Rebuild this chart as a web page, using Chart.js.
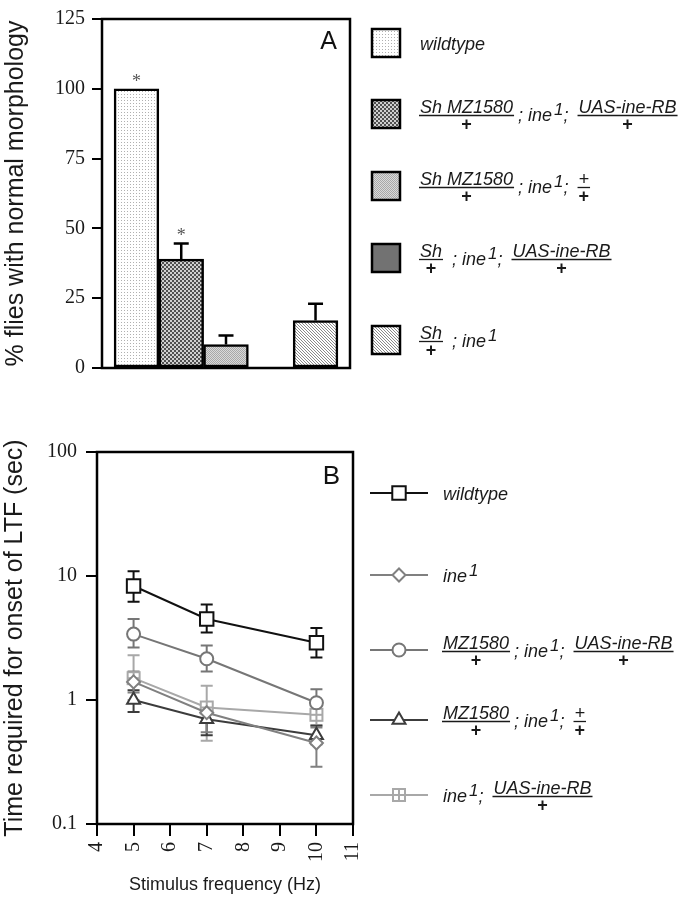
<!DOCTYPE html>
<html>
<head>
<meta charset="utf-8">
<script src="https://cdn.jsdelivr.net/npm/chart.js@4.4.1/dist/chart.umd.min.js"></script>
<style>
html, body { margin: 0; padding: 0; background: #fff; }
#wrap { position: relative; width: 684px; height: 899px; }
#chartA { position: absolute; left: 0; top: 0; }
#chartB { position: absolute; left: 0; top: 420px; }
</style>
</head>
<body>
<div id="wrap">
  <canvas id="chartA" width="684" height="405"></canvas>
  <canvas id="chartB" width="684" height="479"></canvas>
</div>
<script>
// ---- panel A data ----
const genotypesA = ['wildtype', 'Sh MZ1580/+; ine1; UAS-ine-RB/+', 'Sh MZ1580/+; ine1; +/+', 'Sh/+; ine1; UAS-ine-RB/+', 'Sh/+; ine1'];
const percentNormal = [100, 39, 8.4, 0, 17];
const percentErr = [0, 5.6, 3.2, 0, 6];
const starsA = ['*', '*', '', '', ''];
const ticksA = [0, 25, 50, 75, 100, 125];

// legend rows: t = text, s = superscript, f = fraction [num, den]
const legendA = [
    [['t', 'wildtype']],
    [['f', 'Sh MZ1580', '+'], ['t', '; ine'], ['s', '1'], ['t', ';  '], ['f', 'UAS-ine-RB', '+']],
    [['f', 'Sh MZ1580', '+'], ['t', '; ine'], ['s', '1'], ['t', ';  '], ['f', '+', '+']],
    [['f', 'Sh', '+'], ['t', ' ; ine'], ['s', '1'], ['t', ';  '], ['f', 'UAS-ine-RB', '+']],
    [['f', 'Sh', '+'], ['t', ' ; ine'], ['s', '1']]
];

// ---- panel B data ----
const freqHz = [5, 7, 10];
const ticksBx = [4, 5, 6, 7, 8, 9, 10, 11];
const ticksBy = [0.1, 1, 10, 100];

const wtTime = [8.3, 4.5, 2.9];
const wtHi = [10.9, 5.9, 3.8];
const wtLo = [6.2, 3.5, 2.2];

const ineTime = [1.4, 0.79, 0.45];
const ineHi = [1.7, 0.95, 0.6];
const ineLo = [1.15, 0.55, 0.29];

const rescueTime = [3.4, 2.15, 0.95];
const rescueHi = [4.5, 2.75, 1.22];
const rescueLo = [2.65, 1.7, 0.75];

const driverTime = [1.0, 0.7, 0.52];
const driverHi = [1.2, 0.85, 0.62];
const driverLo = [0.8, 0.52, 0.44];

const uasTime = [1.5, 0.87, 0.76];
const uasHi = [2.3, 1.3, 0.9];
const uasLo = [1.0, 0.47, 0.63];

const legendB = [
    [['t', 'wildtype']],
    [['t', 'ine'], ['s', '1']],
    [['f', 'MZ1580', '+'], ['t', '; ine'], ['s', '1'], ['t', ';  '], ['f', 'UAS-ine-RB', '+']],
    [['f', 'MZ1580', '+'], ['t', '; ine'], ['s', '1'], ['t', ';  '], ['f', '+', '+']],
    [['t', 'ine'], ['s', '1'], ['t', ';  '], ['f', 'UAS-ine-RB', '+']]
];

const SANS = '"Liberation Sans", Arial, Helvetica, sans-serif';
const SERIF = '"Liberation Serif", "Times New Roman", serif';

// ---- fill patterns for the bars ----
function makePattern(kind) {
    const c = document.createElement('canvas');
    const g = c.getContext('2d');
    if (kind === 'dots') {
        c.width = c.height = 3;
        g.fillStyle = '#fff'; g.fillRect(0, 0, 3, 3);
        g.fillStyle = '#b0b0b0'; g.fillRect(1, 1, 1, 1);
    } else if (kind === 'checker') {
        c.width = c.height = 4;
        g.fillStyle = '#d0d0d0'; g.fillRect(0, 0, 4, 4);
        g.fillStyle = '#505050'; g.fillRect(0, 0, 2, 2); g.fillRect(2, 2, 2, 2);
    } else if (kind === 'fine') {
        c.width = c.height = 2;
        g.fillStyle = '#dadada'; g.fillRect(0, 0, 2, 2);
        g.fillStyle = '#a8a8a8'; g.fillRect(0, 0, 1, 1); g.fillRect(1, 1, 1, 1);
    } else if (kind === 'hatch') {
        c.width = c.height = 3;
        g.fillStyle = '#fff'; g.fillRect(0, 0, 3, 3);
        g.fillStyle = '#8a8a8a';
        for (let i = 0; i < 3; i++) g.fillRect(i, i, 1, 1);
    } else {
        c.width = c.height = 2;
        g.fillStyle = '#727272'; g.fillRect(0, 0, 2, 2);
    }
    return g.createPattern(c, 'repeat');
}
const barFills = ['dots', 'checker', 'fine', 'solid', 'hatch'].map(makePattern);

function drawRich(ctx, tokens, x, y) {
    ctx.save();
    ctx.fillStyle = '#1a1a1a';
    ctx.strokeStyle = '#1a1a1a';
    ctx.textAlign = 'left';
    ctx.textBaseline = 'alphabetic';
    for (const tk of tokens) {
        if (tk[0] === 't') {
            ctx.font = 'italic 18px ' + SANS;
            ctx.fillText(tk[1], x, y + 7);
            x += ctx.measureText(tk[1]).width;
        } else if (tk[0] === 's') {
            ctx.font = 'italic 17px ' + SANS;
            ctx.fillText(tk[1], x + 2, y + 1);
            x += ctx.measureText(tk[1]).width + 2;
        } else {
            ctx.font = 'italic 18px ' + SANS;
            const w = ctx.measureText(tk[1]).width;
            ctx.fillText(tk[1], x, y - 1);
            ctx.lineWidth = 1.3;
            ctx.beginPath();
            ctx.moveTo(x - 1, y + 1.5);
            ctx.lineTo(x + w + 1, y + 1.5);
            ctx.stroke();
            ctx.font = 'bold 18px ' + SANS;
            const w2 = ctx.measureText(tk[2]).width;
            ctx.fillText(tk[2], x + (w - w2) / 2, y + 16);
            x += w + 5;
        }
    }
    ctx.restore();
}

const framePlugin = {
    id: 'frame',
    afterDraw(chart, args, opts) {
        const { ctx, chartArea: a } = chart;
        ctx.save();
        ctx.lineWidth = 2.5;
        ctx.strokeStyle = '#000';
        ctx.strokeRect(a.left, a.top, a.right - a.left, a.bottom - a.top);
        ctx.fillStyle = '#111';
        ctx.font = opts.size + 'px ' + SANS;
        ctx.textAlign = 'right';
        ctx.textBaseline = 'alphabetic';
        ctx.fillText(opts.letter, a.right - 13, a.top + opts.dy);
        ctx.restore();
    }
};

// ---- chart A ----
const barPlugin = {
    id: 'barExtras',
    afterDatasetsDraw(chart) {
        const { ctx } = chart;
        const y = chart.scales.y;
        const meta = chart.getDatasetMeta(0);
        ctx.save();
        ctx.strokeStyle = '#000';
        ctx.lineWidth = 2.5;
        meta.data.forEach((bar, i) => {
            let top = y.getPixelForValue(percentNormal[i]);
            if (percentErr[i] > 0) {
                const yt = y.getPixelForValue(percentNormal[i] + percentErr[i]);
                ctx.beginPath();
                ctx.moveTo(bar.x, top);
                ctx.lineTo(bar.x, yt);
                ctx.moveTo(bar.x - 7.5, yt);
                ctx.lineTo(bar.x + 7.5, yt);
                ctx.stroke();
                top = yt;
            }
            if (starsA[i]) {
                ctx.fillStyle = '#555';
                ctx.font = '18px ' + SERIF;
                ctx.textAlign = 'center';
                ctx.fillText(starsA[i], bar.x, top - 2);
            }
        });
        ctx.restore();
    }
};

const legendAPlugin = {
    id: 'legendA',
    afterDraw(chart) {
        const { ctx } = chart;
        const rows = [43, 114, 186, 258, 340];
        legendA.forEach((tokens, i) => {
            ctx.save();
            ctx.fillStyle = barFills[i];
            ctx.fillRect(372, rows[i] - 14, 28, 28);
            ctx.lineWidth = 2.5;
            ctx.strokeStyle = '#000';
            ctx.strokeRect(372, rows[i] - 14, 28, 28);
            ctx.restore();
            drawRich(ctx, tokens, 420, rows[i]);
        });
    }
};

new Chart(document.getElementById('chartA'), {
    type: 'bar',
    data: {
        datasets: [{
            label: '% flies with normal morphology',
            data: percentNormal.map((v, i) => ({ x: i, y: v })),
            backgroundColor: barFills,
            borderColor: '#000',
            borderWidth: 2.5,
            borderSkipped: false,
            barPercentage: 1,
            categoryPercentage: 1
        }]
    },
    options: {
        responsive: false,
        animation: false,
        devicePixelRatio: 1,
        layout: { padding: { left: 0, top: 13, right: 334, bottom: 37 } },
        plugins: {
            legend: { display: false },
            tooltip: { enabled: false },
            frame: { letter: 'A', size: 25, dy: 30 }
        },
        scales: {
            x: {
                type: 'linear',
                min: -0.77,
                max: 4.77,
                offset: false,
                ticks: { display: false },
                grid: { display: false },
                border: { display: false },
                afterFit(s) { s.height = 0; }
            },
            y: {
                min: 0,
                max: 125,
                afterBuildTicks(s) { s.ticks = ticksA.map(v => ({ value: v })); },
                ticks: {
                    color: '#1a1a1a',
                    padding: 7,
                    font: { family: SERIF, size: 20 }
                },
                grid: { drawOnChartArea: false, drawTicks: true, tickLength: 10, color: '#000', lineWidth: 2 },
                border: { display: false },
                title: {
                    display: true,
                    text: '% flies with normal morphology',
                    color: '#1a1a1a',
                    padding: { top: 1 },
                    font: { family: SANS, size: 25 }
                },
                afterFit(s) { s.width = 102; }
            }
        }
    },
    plugins: [barPlugin, framePlugin, legendAPlugin]
});

// ---- chart B ----
function plusSquare(color) {
    const c = document.createElement('canvas');
    c.width = c.height = 16;
    const g = c.getContext('2d');
    g.fillStyle = '#fff';
    g.fillRect(2, 2, 12, 12);
    g.strokeStyle = color;
    g.lineWidth = 2;
    g.strokeRect(2, 2, 12, 12);
    g.beginPath();
    g.moveTo(8, 2); g.lineTo(8, 14);
    g.moveTo(2, 8); g.lineTo(14, 8);
    g.stroke();
    return c;
}

const seriesB = [
    { vals: wtTime, hi: wtHi, lo: wtLo, color: '#111111', style: 'rect', r: 9.5 },
    { vals: ineTime, hi: ineHi, lo: ineLo, color: '#808080', style: 'rectRot', r: 6.5 },
    { vals: rescueTime, hi: rescueHi, lo: rescueLo, color: '#767676', style: 'circle', r: 6.5 },
    { vals: driverTime, hi: driverHi, lo: driverLo, color: '#3c3c3c', style: 'triangle', r: 7.5 },
    { vals: uasTime, hi: uasHi, lo: uasLo, color: '#a8a8a8', style: plusSquare('#a8a8a8'), r: 7 }
];

const errPlugin = {
    id: 'errB',
    beforeDatasetsDraw(chart) {
        const { ctx } = chart;
        const xs = chart.scales.x, ys = chart.scales.y;
        ctx.save();
        ctx.lineWidth = 2;
        seriesB.slice().reverse().forEach(s => {
            ctx.strokeStyle = s.color;
            freqHz.forEach((f, i) => {
                const px = xs.getPixelForValue(f);
                const yh = ys.getPixelForValue(s.hi[i]);
                const yl = ys.getPixelForValue(s.lo[i]);
                ctx.beginPath();
                ctx.moveTo(px, yh); ctx.lineTo(px, yl);
                ctx.moveTo(px - 6, yh); ctx.lineTo(px + 6, yh);
                ctx.moveTo(px - 6, yl); ctx.lineTo(px + 6, yl);
                ctx.stroke();
            });
        });
        ctx.restore();
    }
};

const legendBPlugin = {
    id: 'legendB',
    afterDraw(chart) {
        const { ctx } = chart;
        const rows = [73, 155, 230, 300, 375];
        seriesB.forEach((s, i) => {
            ctx.save();
            ctx.strokeStyle = s.color;
            ctx.lineWidth = 2;
            ctx.beginPath();
            ctx.moveTo(370, rows[i]);
            ctx.lineTo(428, rows[i]);
            ctx.stroke();
            ctx.fillStyle = '#fff';
            if (Chart.helpers && Chart.helpers.drawPoint) {
                Chart.helpers.drawPoint(ctx, { pointStyle: s.style, radius: s.r, borderWidth: 2, rotation: 0 }, 399, rows[i]);
            }
            ctx.restore();
            drawRich(ctx, legendB[i], 443, rows[i]);
        });
    }
};

new Chart(document.getElementById('chartB'), {
    type: 'line',
    data: {
        datasets: seriesB.map((s, k) => ({
            label: legendB[k].map(t => t[1]).join(''),
            data: freqHz.map((f, i) => ({ x: f, y: s.vals[i] })),
            borderColor: s.color,
            borderWidth: 2,
            pointStyle: s.style,
            pointRadius: s.r,
            pointBorderWidth: 2,
            pointBorderColor: s.color,
            pointBackgroundColor: '#fff',
            tension: 0
        }))
    },
    options: {
        responsive: false,
        animation: false,
        devicePixelRatio: 1,
        layout: { padding: { left: 0, top: 32, right: 331, bottom: 0 } },
        plugins: {
            legend: { display: false },
            tooltip: { enabled: false },
            frame: { letter: 'B', size: 26, dy: 32 }
        },
        scales: {
            x: {
                type: 'linear',
                min: 4,
                max: 11,
                afterBuildTicks(s) { s.ticks = ticksBx.map(v => ({ value: v })); },
                ticks: {
                    color: '#1a1a1a',
                    padding: 6,
                    minRotation: 90,
                    maxRotation: 90,
                    font: { family: SERIF, size: 20 }
                },
                grid: { drawOnChartArea: false, drawTicks: true, tickLength: 12, color: '#000', lineWidth: 2 },
                border: { display: false },
                title: {
                    display: true,
                    text: 'Stimulus frequency (Hz)',
                    color: '#1a1a1a',
                    padding: { top: 0, bottom: 3 },
                    font: { family: SANS, size: 18 }
                },
                afterFit(s) { s.height = 75; }
            },
            y: {
                type: 'logarithmic',
                min: 0.1,
                max: 100,
                afterBuildTicks(s) { s.ticks = ticksBy.map(v => ({ value: v })); },
                ticks: {
                    color: '#1a1a1a',
                    padding: 9,
                    callback: v => String(v),
                    font: { family: SERIF, size: 20 }
                },
                grid: { drawOnChartArea: false, drawTicks: true, tickLength: 11, color: '#000', lineWidth: 2 },
                border: { display: false },
                title: {
                    display: true,
                    text: 'Time required for onset of LTF (sec)',
                    color: '#1a1a1a',
                    padding: 0,
                    font: { family: SANS, size: 25 }
                },
                afterFit(s) { s.width = 97; }
            }
        }
    },
    plugins: [errPlugin, framePlugin, legendBPlugin]
});
</script>
</body>
</html>
